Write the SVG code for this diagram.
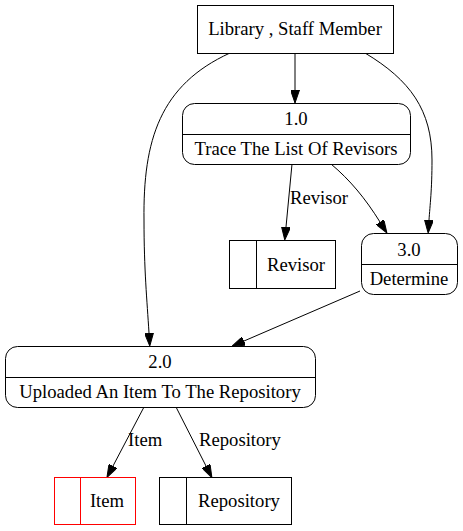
<svg xmlns="http://www.w3.org/2000/svg" width="463" height="531" viewBox="0 0 463 531">
<style>
text{font-family:'Liberation Serif','Times New Roman',Times,serif;font-size:18.67px;fill:#000;text-anchor:middle}
.n{fill:#fff;stroke:#000;stroke-width:1}
.r{fill:#fff;stroke:#ff0000;stroke-width:1}
.e{fill:none;stroke:#000;stroke-width:1;marker-end:url(#ah)}
.l{text-anchor:start}
</style>
<defs>
<marker id="ah" viewBox="0 0 13 9" refX="0" refY="4.5" markerWidth="13" markerHeight="9" markerUnits="userSpaceOnUse" orient="auto">
<path d="M0,0 L13,4.5 L0,9 z" fill="#000" stroke="#000" stroke-width="1"/>
</marker>
</defs>
<rect width="463" height="531" fill="#fff"/>
<g id="edges">
<path class="e" d="M295,53 L295,90"/>
<path class="e" d="M230,53 C160,85 143,140 144,220 C144,270 147,300 149,333"/>
<path class="e" d="M365,53 C410,80 432,110 432,160 C432,190 430,205 429,220"/>
<path class="e" d="M292,164 L286,227"/>
<text class="l" x="290" y="204">Revisor</text>
<path class="e" d="M331,164 C350,180 365,198 380,222"/>
<path class="e" d="M360,291 L244,341"/>
<path class="e" d="M144,407 L113,466"/>
<text class="l" x="128" y="446">Item</text>
<path class="e" d="M176,407 L206,466"/>
<text class="l" x="199" y="446">Repository</text>
</g>
<g id="staff">
<rect class="n" x="197.5" y="5.5" width="196" height="48"/>
<text x="295" y="35">Library , Staff Member</text>
</g>
<g id="p1">
<rect class="n" x="182.5" y="103.5" width="228" height="61" rx="12"/>
<line class="n" x1="182.5" y1="134.5" x2="410.5" y2="134.5"/>
<text x="296" y="125">1.0</text>
<text x="296" y="155">Trace The List Of Revisors</text>
</g>
<g id="p3">
<rect class="n" x="361.5" y="233.5" width="96" height="61" rx="12"/>
<line class="n" x1="361.5" y1="264.5" x2="457.5" y2="264.5"/>
<text x="409" y="256">3.0</text>
<text x="409" y="285">Determine</text>
</g>
<g id="revisor">
<rect class="n" x="229.5" y="240.5" width="106" height="48"/>
<line class="n" x1="256.5" y1="240.5" x2="256.5" y2="288.5"/>
<text x="296" y="271">Revisor</text>
</g>
<g id="p2">
<rect class="n" x="5.5" y="346.5" width="310" height="61" rx="12"/>
<line class="n" x1="5.5" y1="377.5" x2="315.5" y2="377.5"/>
<text x="160" y="368">2.0</text>
<text x="160" y="398">Uploaded An Item To The Repository</text>
</g>
<g id="item">
<rect class="r" x="54.5" y="477.5" width="81" height="47"/>
<line class="r" x1="80.5" y1="477.5" x2="80.5" y2="524.5"/>
<text x="107" y="507">Item</text>
</g>
<g id="repository">
<rect class="n" x="159.5" y="477.5" width="132" height="47"/>
<line class="n" x1="186.5" y1="477.5" x2="186.5" y2="524.5"/>
<text x="239" y="507">Repository</text>
</g>
</svg>
